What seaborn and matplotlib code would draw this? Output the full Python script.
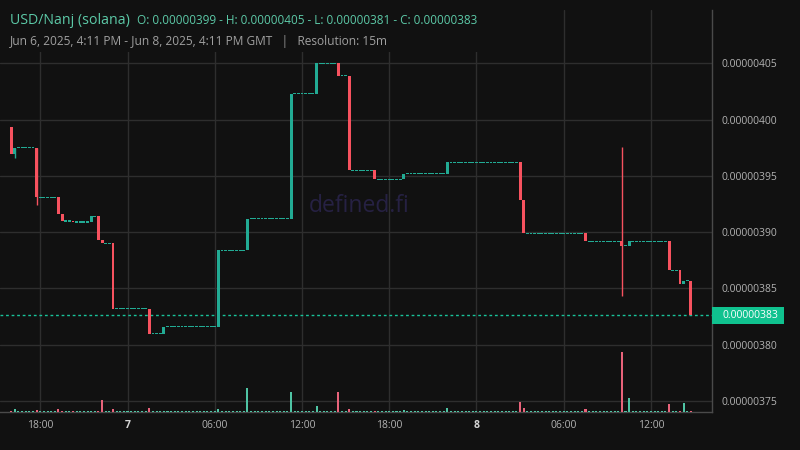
import numpy as np
import pandas as pd
import matplotlib
matplotlib.use("Agg")
import matplotlib.pyplot as plt
import matplotlib.transforms as mtransforms
from matplotlib.patches import Rectangle
import seaborn as sns

# 15m candles from Jun 6 16:00, prices in units of 1e-8
first_open = 399.3
closes = [
    396.9, 397.5, 397.5, 397.5, 397.5, 397.5, 397.5, 393.1, 393.1, 393.1, 393.1, 393.1,
    393.1, 391.6, 391.0, 391.0, 391.0, 390.9, 390.9, 390.9, 390.9, 390.9, 391.4, 391.4,
    389.3, 389.0, 389.0, 389.0, 383.2, 383.2, 383.2, 383.2, 383.2, 383.2, 383.2, 383.2,
    383.2, 383.2, 381.0, 381.0, 381.0, 381.0, 381.6, 381.6, 381.6, 381.6, 381.6, 381.6,
    381.6, 381.6, 381.6, 381.6, 381.6, 381.6, 381.6, 381.6, 381.6, 388.4, 388.4, 388.4,
    388.4, 388.4, 388.4, 388.4, 388.4, 391.2, 391.2, 391.2, 391.2, 391.2, 391.2, 391.2,
    391.2, 391.2, 391.2, 391.2, 391.2, 402.3, 402.3, 402.3, 402.3, 402.3, 402.3, 402.3,
    405.0, 405.0, 405.0, 405.0, 405.0, 405.0, 403.9, 403.9, 403.9, 395.5, 395.5, 395.5,
    395.5, 395.5, 395.5, 395.5, 394.7, 394.7, 394.7, 394.7, 394.7, 394.7, 394.7, 394.7,
    395.2, 395.2, 395.2, 395.2, 395.2, 395.2, 395.2, 395.2, 395.2, 395.2, 395.2, 395.2,
    396.2, 396.2, 396.2, 396.2, 396.2, 396.2, 396.2, 396.2, 396.2, 396.2, 396.2, 396.2,
    396.2, 396.2, 396.2, 396.2, 396.2, 396.2, 396.2, 396.2, 392.9, 389.9, 389.9, 389.9,
    389.9, 389.9, 389.9, 389.9, 389.9, 389.9, 389.9, 389.9, 389.9, 389.9, 389.9, 389.9,
    389.9, 389.9, 389.2, 389.2, 389.2, 389.2, 389.2, 389.2, 389.2, 389.2, 389.2, 389.2,
    388.8, 388.8, 389.2, 389.2, 389.2, 389.2, 389.2, 389.2, 389.2, 389.2, 389.2, 389.2,
    389.2, 386.6, 386.6, 386.6, 385.4, 385.7, 385.7, 382.6,
]
volumes = [
    1.5, 2.6, 1.0, 1.0, 1.0, 1.0, 1.0, 2.3, 1.0, 1.0, 1.0, 1.0,
    1.0, 3.3, 1.2, 1.0, 1.0, 1.5, 1.0, 1.0, 1.0, 1.2, 1.5, 1.2,
    1.2, 12.3, 1.2, 1.0, 3.3, 1.2, 1.0, 1.0, 1.0, 1.0, 1.0, 1.0,
    1.0, 1.0, 4.3, 1.2, 1.0, 1.0, 1.2, 1.0, 1.0, 1.0, 1.0, 1.0,
    1.0, 1.0, 1.0, 1.2, 1.2, 1.0, 1.0, 1.0, 1.0, 3.3, 1.0, 1.0,
    1.2, 1.2, 1.2, 1.0, 1.0, 24.3, 1.0, 1.0, 1.0, 1.2, 1.2, 1.2,
    1.0, 1.0, 1.0, 1.0, 1.0, 20.3, 1.0, 1.0, 1.0, 1.2, 1.0, 1.0,
    6.3, 1.0, 1.0, 1.0, 1.0, 1.0, 20.3, 1.0, 1.0, 3.3, 1.0, 1.0,
    1.0, 1.0, 1.0, 1.0, 1.5, 1.0, 1.0, 1.0, 1.0, 1.0, 1.0, 1.0,
    1.7, 1.0, 1.0, 1.0, 1.0, 1.2, 1.2, 1.2, 1.0, 1.0, 1.0, 1.0,
    3.7, 1.0, 1.0, 1.0, 1.0, 1.0, 1.2, 1.2, 1.2, 1.2, 1.0, 1.0,
    1.0, 1.0, 1.0, 1.0, 1.2, 1.2, 1.2, 1.2, 9.7, 3.7, 1.0, 1.0,
    1.0, 1.0, 1.0, 1.2, 1.2, 1.2, 1.2, 1.0, 1.0, 1.0, 1.0, 1.0,
    1.0, 1.0, 2.7, 1.0, 1.2, 1.2, 1.2, 1.2, 1.0, 1.0, 1.0, 1.0,
    59.7, 1.0, 13.7, 1.2, 1.2, 1.2, 1.2, 1.0, 1.0, 1.0, 1.0, 1.0,
    1.0, 7.7, 1.0, 1.0, 1.5, 8.7, 1.0, 1.5,
]
wick_highs = {168: 397.6}
wick_lows = {1: 396.6, 7: 392.4, 168: 384.3}
last_price = 382.6

tick_hours = [18, 24, 30, 36, 42, 48, 54, 60]
tick_labels = ["18:00", "7", "06:00", "12:00", "18:00", "8", "06:00", "12:00"]
price_ticks = [375, 380, 385, 390, 395, 400, 405]

bg = "#111111"
up = "#22ab94"
down = "#f7525f"
vol_up = "#4fc4a4"
vol_down = "#e8637a"
label_grey = "#b2b2b2"

sns.set_theme(style="dark", rc={
    "figure.facecolor": bg, "axes.facecolor": bg,
    "grid.color": "#2e2e2e", "axes.edgecolor": "#4a4a4a",
})
plt.rcParams["font.family"] = ["Open Sans", "DejaVu Sans"]

times = pd.date_range("2025-06-06 16:00", periods=len(closes), freq="15min")
df = pd.DataFrame({"time": times, "close": closes, "volume": volumes})
df["hour"] = (df["time"] - pd.Timestamp("2025-06-06")) / pd.Timedelta(hours=1)
df["open"] = [first_open] + closes[:-1]
df["dir"] = np.where(df["close"] < df["open"], "down", "up")

fig = plt.figure(figsize=(8, 4.5), dpi=100)
ax = fig.add_axes([0, 1 - 412 / 450, 712 / 800, 402 / 450])

# watermark, kept above the grid so the grid line does not cut a letter
ax.text(309 / 800, 1 - 206 / 450, "defined.fi", transform=fig.transFigure,
        ha="left", va="center", fontsize=16.5, color="#262143", zorder=2.6)

# candle bodies (flat candles drawn as a thin line)
body_lo = np.minimum(df["open"], df["close"])
body_h = (df["open"] - df["close"]).abs()
flat = body_h < 0.1
bottoms = np.where(flat, df["close"] - 0.06, body_lo)
heights = np.where(flat, 0.12, body_h)
colors = np.where(df["dir"] == "down", down, up)
ax.bar(df["hour"], heights, bottom=bottoms, width=0.2, color=colors,
       linewidth=0, antialiased=False, zorder=3)

for i in sorted(set(wick_highs) | set(wick_lows)):
    row = df.iloc[i]
    hi = wick_highs.get(i, max(row["open"], row["close"]))
    lo = wick_lows.get(i, min(row["open"], row["close"]))
    ax.vlines(row["hour"], lo, hi, color=down if row["dir"] == "down" else up,
              lw=1, zorder=3)

ax.axhline(last_price, color="#19c39a", lw=1, ls=(0, (2, 2)), zorder=2)

# volume pane
ax_vol = ax.twinx()
sns.barplot(data=df, x="hour", y="volume", hue="dir",
            palette={"up": vol_up, "down": vol_down}, native_scale=True,
            dodge=False, width=0.56, errorbar=None, legend=False,
            saturation=1, linewidth=0, ax=ax_vol)
ax_vol.set_ylim(0, 402)
ax_vol.set_yticks([])
ax_vol.set_xlabel("")
ax_vol.set_ylabel("")
ax_vol.grid(False)
for s in ax_vol.spines.values():
    s.set_visible(False)

ax.set_xlim(15.23, 64.2)
ax.set_ylim(374.03, 409.73)
ax.set_xlabel("")
ax.set_xticks(tick_hours)
ax.set_xticklabels(tick_labels)
for lab in ax.get_xticklabels():
    if len(lab.get_text()) == 1:
        lab.set_fontweight("bold")
        lab.set_color("#d6d6d6")
    else:
        lab.set_color(label_grey)
ax.set_yticks(price_ticks)
ax.yaxis.set_major_formatter(lambda v, _: f"{v / 1e8:.8f}")
ax.yaxis.tick_right()
ax.tick_params(axis="y", length=0, pad=7, labelsize=7.5, colors=label_grey)
ax.tick_params(axis="x", length=0, pad=6, labelsize=7.5)
ax.grid(True, color="#2e2e2e", lw=1)
for side in ["top", "left"]:
    ax.spines[side].set_visible(False)
for side in ["right", "bottom"]:
    ax.spines[side].set_visible(True)
    ax.spines[side].set_color("#4a4a4a")
    ax.spines[side].set_linewidth(1)

# current price tag on the axis
trans = mtransforms.blended_transform_factory(ax.transAxes, ax.transData)
ax.add_patch(Rectangle((1.0, last_price - 0.78), 72 / 712, 1.56, transform=trans,
                       facecolor="#10c28f", edgecolor="none", clip_on=False, zorder=5))
ax.text(1 + 10 / 712, last_price, f"{last_price / 1e8:.8f}", transform=trans,
        ha="left", va="center", fontsize=7.5, color="white", zorder=6)

# header
fig.patches.append(Rectangle((0, 1 - 52 / 450), 505 / 800, 52 / 450,
                             transform=fig.transFigure, facecolor=bg,
                             edgecolor="none", zorder=1))
fig.text(10 / 800, 1 - 20 / 450, "USD/Nanj (solana)", fontsize=10.2,
         color="#5cc9a7", va="center", zorder=3)
fig.text(137 / 800, 1 - 20 / 450,
         "O: 0.00000399 - H: 0.00000405 - L: 0.00000381 - C: 0.00000383",
         fontsize=8.5, color="#5cc9a7", va="center", zorder=3)
fig.text(10 / 800, 1 - 41 / 450,
         "Jun 6, 2025, 4:11 PM - Jun 8, 2025, 4:11 PM GMT   |   Resolution: 15m",
         fontsize=8.6, color="#a0a0a0", va="center", zorder=3)

fig.savefig("out.png", dpi=100, facecolor=bg)
